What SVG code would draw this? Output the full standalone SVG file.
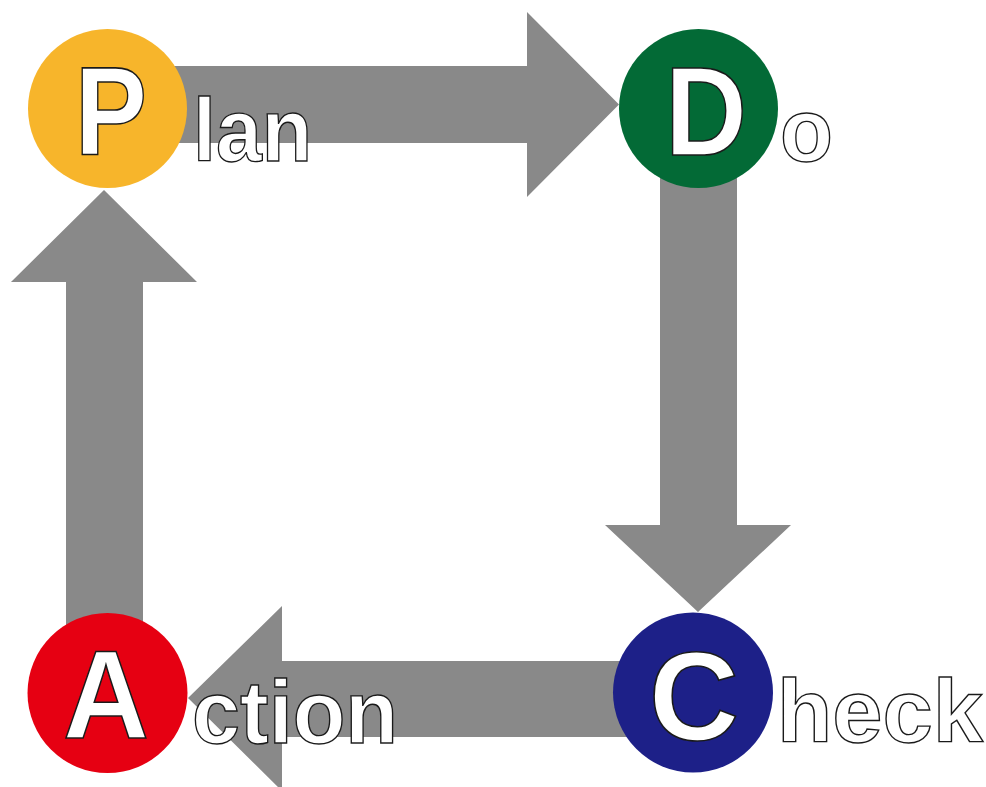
<svg xmlns="http://www.w3.org/2000/svg" width="986" height="787" viewBox="0 0 986 787">
  <style>
    .arrow { fill: #898989; }
    .big { font-family: "Liberation Sans", Arial, sans-serif; font-weight: bold; font-size: 127px; fill: #ffffff; stroke: #1a1a1a; stroke-width: 1.6; text-anchor: middle; }
    .rest { font-family: "Liberation Sans", Arial, sans-serif; font-weight: bold; font-size: 89px; fill: #ffffff; stroke: #1a1a1a; stroke-width: 1.4; }
  </style>
  <rect width="986" height="787" fill="#ffffff"/>
  <!-- block arrows of the cycle -->
  <g id="connectors">
    <polygon class="arrow" points="150,66 527,66 527,12 619,104.5 527,197 527,143 150,143"/>
    <polygon class="arrow" points="660,150 737,150 737,525 791,525 698,612 605,525 660,525"/>
    <polygon class="arrow" points="650,661 650,737 282,737 282,791 188,698 282,606 282,661"/>
    <polygon class="arrow" points="66,650 143,650 143,282 197,282 104,190 11,282 66,282"/>
  </g>
  <g id="plan">
    <circle cx="107.5" cy="108.5" r="79.5" fill="#F7B52B"/>
    <text class="big" x="111" y="155" textLength="72" lengthAdjust="spacingAndGlyphs">P</text>
    <text class="rest" x="193" y="161" textLength="119" lengthAdjust="spacingAndGlyphs">lan</text>
  </g>
  <g id="do">
    <circle cx="698.5" cy="108.5" r="79.5" fill="#036A36"/>
    <text class="big" x="706" y="155" textLength="82" lengthAdjust="spacingAndGlyphs">D</text>
    <text class="rest" x="780" y="161" textLength="53" lengthAdjust="spacingAndGlyphs">o</text>
  </g>
  <g id="check">
    <circle cx="693" cy="692.5" r="80" fill="#1D2088"/>
    <text class="big" x="694" y="740" textLength="90" lengthAdjust="spacingAndGlyphs">C</text>
    <text class="rest" x="777" y="742" textLength="206" lengthAdjust="spacingAndGlyphs">heck</text>
  </g>
  <g id="action">
    <circle cx="107.5" cy="693" r="80" fill="#E60012"/>
    <text class="big" x="106" y="738" textLength="86" lengthAdjust="spacingAndGlyphs">A</text>
    <text class="rest" x="192" y="743" textLength="206" lengthAdjust="spacingAndGlyphs">ction</text>
  </g>
</svg>
